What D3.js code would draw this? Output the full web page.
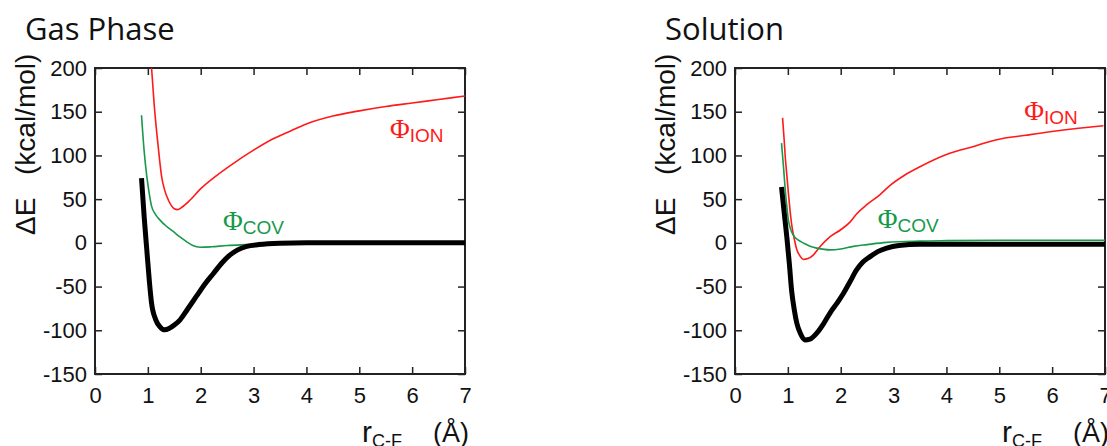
<!DOCTYPE html>
<html>
<head>
<meta charset="utf-8">
<script src="https://cdn.jsdelivr.net/npm/d3@7"></script>
<style>
  body { margin: 0; background: #fff; }
  svg text { font-family: "Liberation Sans", Arial, sans-serif; fill: #111; }
  .tick text { font-size: 22px; }
</style>
</head>
<body>
<svg id="chart" width="1107" height="446"></svg>
<script>
const xTicks = [0, 1, 2, 3, 4, 5, 6, 7];
const yTicks = [-150, -100, -50, 0, 50, 100, 150, 200];

// [r (Å), ΔE (kcal/mol)]
const gasTotal = [[0.88, 74], [0.93, 30], [0.98, -8], [1.03, -45], [1.07, -69], [1.15, -88], [1.23, -96],
  [1.32, -99.5], [1.4, -98], [1.5, -94], [1.61, -88], [1.75, -76], [1.92, -61], [2.08, -47], [2.24, -35],
  [2.4, -23], [2.55, -14], [2.7, -8], [2.87, -4], [3.1, -2], [3.5, -0.5], [4, 0], [5, 0], [6, 0], [7, 0]];
const gasCov = [[0.88, 146], [0.93, 105], [0.98, 76], [1.03, 55], [1.07, 42], [1.15, 32], [1.23, 26],
  [1.35, 19], [1.48, 13], [1.6, 7], [1.73, 1.5], [1.85, -3], [1.99, -5], [2.2, -4.5], [2.5, -3],
  [2.87, -2], [3.5, -0.5], [4, 0], [5, 0], [6, 0], [7, 0]];
const gasIon = [[1.07, 200], [1.12, 158], [1.17, 125], [1.22, 96], [1.26, 76], [1.31, 62], [1.36, 53],
  [1.43, 44], [1.5, 39], [1.56, 38], [1.65, 41], [1.8, 49], [2.0, 62], [2.3, 77], [2.62, 91], [3.0, 106],
  [3.37, 119], [3.7, 128], [4.0, 136], [4.5, 145], [5.0, 151], [5.5, 156], [6.0, 160], [6.5, 164], [7.0, 168]];

const solTotal = [[0.88, 64], [0.93, 35], [0.98, 7], [1.03, -25], [1.07, -54], [1.12, -76], [1.17, -92],
  [1.24, -104], [1.32, -111], [1.42, -110], [1.55, -103], [1.68, -92], [1.8, -80], [1.93, -69], [2.05, -58],
  [2.18, -44], [2.3, -31], [2.42, -22], [2.55, -16], [2.7, -10], [2.87, -6], [3.1, -3], [3.5, -1.5],
  [4, -1.5], [5, -1.5], [6, -1.5], [7, -1.5]];
const solCov = [[0.88, 114], [0.92, 85], [0.95, 61], [0.98, 42], [1.01, 26], [1.05, 16], [1.1, 9],
  [1.2, 3], [1.29, 0], [1.42, -4], [1.55, -6], [1.8, -8], [2.0, -7], [2.24, -4], [2.5, -2], [2.87, 0.5],
  [3.5, 2], [4, 2.5], [5, 3], [6, 3], [7, 3]];
const solIon = [[0.9, 143], [0.93, 118], [0.95, 99], [0.98, 78], [1.01, 57], [1.04, 38], [1.07, 22],
  [1.12, 5], [1.17, -8], [1.23, -15], [1.29, -19], [1.38, -18], [1.48, -14], [1.6, -5], [1.8, 7],
  [2.0, 15], [2.18, 24], [2.3, 33], [2.5, 44], [2.74, 55], [2.94, 66], [3.2, 77], [3.5, 87], [4.0, 101],
  [4.5, 110], [4.95, 118], [5.5, 123], [5.96, 127], [6.5, 131], [6.97, 134]];

const panels = [
  { title: "Gas Phase", dx: 0, total: gasTotal, cov: gasCov, ion: gasIon, ionAt: [5.58, 120], covAt: [2.42, 15] },
  { title: "Solution", dx: 640, total: solTotal, cov: solCov, ion: solIon, ionAt: [5.47, 141], covAt: [2.7, 17] },
];

const width = 370, height = 306;
const svg = d3.select("#chart");

const x = d3.scaleLinear().domain([0, 7]).range([0, width]);
const y = d3.scaleLinear().domain([-150, 200]).range([height, 0]);
const line = d3.line().x((d) => x(d[0])).y((d) => y(d[1])).curve(d3.curveMonotoneX);
const plain = (d) => String(d); // hyphen minus, like the original

const drawPanel = (p, i) => {
  const outer = svg.append("g").attr("transform", `translate(${p.dx},0)`);

  // Title
  outer.append("text")
    .attr("x", 25).attr("y", 40)
    .style("font-family", "'Open Sans', sans-serif")
    .style("font-size", "31px")
    .text(p.title);

  // Y axis label
  outer.append("text")
    .attr("transform", "translate(35,235) rotate(-90)")
    .style("font-size", "28px")
    .text("ΔE");
  outer.append("text")
    .attr("transform", "translate(35,175) rotate(-90)")
    .style("font-size", "28px")
    .text("(kcal/mol)");

  // X axis label
  const xl = outer.append("text").attr("x", 362).attr("y", 442).style("font-size", "30px");
  xl.append("tspan").text("r");
  xl.append("tspan").attr("dy", 5).style("font-size", "18px").text("C-F");
  outer.append("text").attr("x", 433).attr("y", 442).style("font-size", "27px").text("(Å)");

  const root = outer.append("g").attr("transform", "translate(95,68)");

  root.append("clipPath").attr("id", `clip${i}`)
    .append("rect").attr("width", width).attr("height", height);

  // Axes with inward ticks
  const tick = 7;
  root.append("g").attr("transform", `translate(0,${height})`)
    .call(d3.axisBottom(x).tickValues(xTicks).tickFormat(plain)
      .tickSizeInner(-tick).tickSizeOuter(0).tickPadding(13))
    .attr("font-size", 22);
  root.append("g")
    .call(d3.axisLeft(y).tickValues(yTicks).tickFormat(plain)
      .tickSizeInner(-tick).tickSizeOuter(0).tickPadding(8))
    .attr("font-size", 22);
  root.append("g")
    .call(d3.axisTop(x).tickValues(xTicks).tickSizeInner(-tick).tickSizeOuter(0).tickFormat(""));
  root.append("g").attr("transform", `translate(${width},0)`)
    .call(d3.axisRight(y).tickValues(yTicks).tickSizeInner(-tick).tickSizeOuter(0).tickFormat(""));
  root.selectAll(".domain").remove();
  root.selectAll(".tick line").attr("stroke", "#222").attr("stroke-width", 1.5);
  root.selectAll(".tick text").attr("fill", "#111");

  root.append("rect")
    .attr("width", width).attr("height", height)
    .attr("fill", "none").attr("stroke", "#222").attr("stroke-width", 2);

  // Curves
  const curves = root.append("g").attr("clip-path", `url(#clip${i})`);
  curves.append("path").datum(p.ion).attr("d", line)
    .attr("fill", "none").attr("stroke", "#ff1a1a").attr("stroke-width", 1.6);
  curves.append("path").datum(p.cov).attr("d", line)
    .attr("fill", "none").attr("stroke", "#17994a").attr("stroke-width", 1.6);
  curves.append("path").datum(p.total).attr("d", line)
    .attr("fill", "none").attr("stroke", "#000").attr("stroke-width", 5);

  // Curve labels
  const label = (at, sub, color) => {
    const t = root.append("text").attr("x", x(at[0])).attr("y", y(at[1])).style("fill", color);
    t.append("tspan").style("font-family", "'Liberation Serif', serif").style("font-size", "27px").text("Φ");
    t.append("tspan").attr("dy", 4).style("font-size", "19px").text(sub);
  };
  label(p.ionAt, "ION", "#ff1a1a");
  label(p.covAt, "COV", "#17994a");
};

panels.forEach(drawPanel);
</script>
</body>
</html>
